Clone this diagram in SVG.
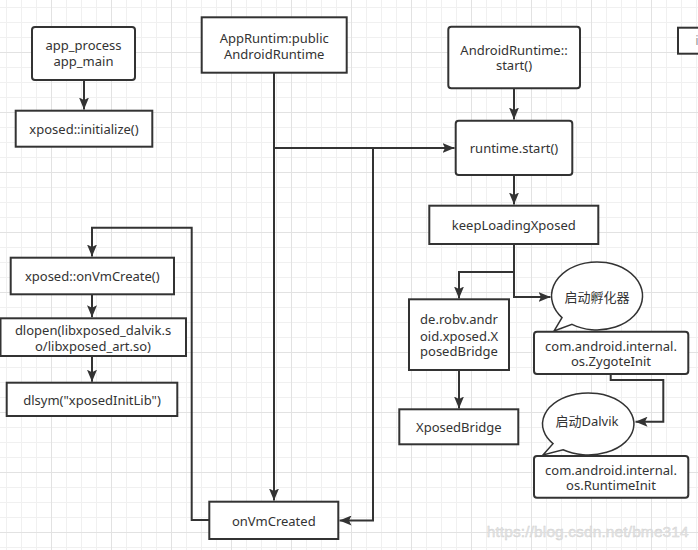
<svg xmlns="http://www.w3.org/2000/svg" width="698" height="550" viewBox="0 0 698 550">
<defs>
<pattern id="grid" patternUnits="userSpaceOnUse" x="44" y="45" width="60" height="60">
<path d="M22.5 0V60M37.5 0V60M52.5 0V60M0 22.5H60M0 37.5H60M0 52.5H60" stroke="#f0f0f0" stroke-width="1" fill="none"/>
<path d="M7.5 0V60M0 7.5H60" stroke="#e2e2e2" stroke-width="1" fill="none"/>
</pattern>
<marker id="arr" viewBox="0 0 12 10" refX="12" refY="5" markerWidth="12" markerHeight="10" markerUnits="userSpaceOnUse" orient="auto">
<path d="M0 0L12 5L0 10L2.5 5Z" fill="#333"/>
</marker>
<style>
.box{fill:#fff;stroke:#333;stroke-width:2}
.ell{fill:#fff;stroke:#333;stroke-width:1.5}
.t{font-family:"Noto Sans","Noto Sans CJK SC",sans-serif;font-size:13px;fill:#333;text-anchor:middle}
.c{fill:none;stroke:#333;stroke-width:2;marker-end:url(#arr)}
.cn{fill:none;stroke:#333;stroke-width:2}
</style>
</defs>
<rect width="698" height="550" fill="#fff"/>
<rect width="698" height="550" fill="url(#grid)"/>

<g id="connectors">
<path class="c" d="M84 80V109.5"/>
<path class="cn" d="M274 72.7V148"/>
<path class="c" d="M274 148V500.5"/>
<path class="c" d="M274 148H454.5"/>
<path class="c" d="M373 148V520.5H339.5"/>
<path class="c" d="M514 88.3V119.5"/>
<path class="c" d="M514 175V204.5"/>
<path class="c" d="M514 244V272H459V298.5"/>
<path class="c" d="M514 272V297H550.5"/>
<path class="c" d="M610.7 374V380H663.3V421.7H635.5"/>
<path class="c" d="M459 370V408.5"/>
<path class="c" d="M209.3 520H191.7V227.7H92V256.5"/>
<path class="c" d="M92 294.3V317.3"/>
<path class="c" d="M92 356V381.7"/>
</g>

<g id="app_process">
<rect class="box" x="32" y="27" width="103" height="53" rx="3"/>
<text class="t" x="83.5" y="50.2">app_process</text>
<text class="t" x="83.5" y="66.2">app_main</text>
</g>
<g id="xposed_initialize">
<rect class="box" x="15.7" y="110.7" width="136.6" height="36"/>
<text class="t" x="84" y="133.5">xposed::initialize()</text>
</g>
<g id="appruntime">
<rect class="box" x="201.7" y="17.3" width="145" height="55.4"/>
<text class="t" x="274.2" y="42.8">AppRuntim:public</text>
<text class="t" x="274.2" y="58.5">AndroidRuntime</text>
</g>
<g id="androidruntime_start">
<rect class="box" x="448.3" y="26.7" width="131.7" height="61.6" rx="3"/>
<text class="t" x="514" y="54.5">AndroidRuntime::</text>
<text class="t" x="514" y="70.2">start()</text>
</g>
<g id="runtime_start">
<rect class="box" x="455.7" y="120.7" width="116.6" height="54.3" rx="3"/>
<text class="t" x="514" y="152.8">runtime.start()</text>
</g>
<g id="keeploadingxposed">
<rect class="box" x="429.3" y="205.7" width="169" height="38.3"/>
<text class="t" x="513.8" y="229.5">keepLoadingXposed</text>
</g>
<g id="callout_zygote">
<path class="ell" d="M572 324.3A45.5 34 0 1 0 562 317.6L554 331Z"/>
<text class="t" x="597" y="301.8">启动孵化器</text>
</g>
<g id="de_robv">
<rect class="box" x="409" y="299.3" width="100" height="70.7"/>
<text class="t" x="459" y="323.8">de.robv.andr</text>
<text class="t" x="459" y="340.5">oid.xposed.X</text>
<text class="t" x="459" y="356.2">posedBridge</text>
</g>
<g id="zygoteinit">
<rect class="box" x="534" y="331.7" width="154.3" height="42.3" rx="3"/>
<text class="t" x="611" y="350.5">com.android.internal.</text>
<text class="t" x="611" y="366.2">os.ZygoteInit</text>
</g>
<g id="xposedbridge">
<rect class="box" x="399.3" y="409.3" width="119" height="35"/>
<text class="t" x="458.8" y="432.2">XposedBridge</text>
</g>
<g id="callout_dalvik">
<path class="ell" d="M563 449.8A45.7 31 0 1 0 553 443.7L543 455Z"/>
<text class="t" x="587" y="426.2">启动Dalvik</text>
</g>
<g id="runtimeinit">
<rect class="box" x="534" y="456" width="154.3" height="41.7" rx="3"/>
<text class="t" x="611" y="474.5">com.android.internal.</text>
<text class="t" x="611" y="490.2">os.RuntimeInit</text>
</g>
<g id="xposed_onvmcreate">
<rect class="box" x="10.7" y="257.7" width="163.3" height="36.6"/>
<text class="t" x="92.3" y="281.2">xposed::onVmCreate()</text>
</g>
<g id="dlopen">
<rect class="box" x="0.5" y="318.3" width="185.5" height="37.7"/>
<text class="t" x="93" y="335.2">dlopen(libxposed_dalvik.s</text>
<text class="t" x="93" y="351.2">o/libxposed_art.so)</text>
</g>
<g id="dlsym">
<rect class="box" x="6.7" y="382.7" width="170.6" height="33.3"/>
<text class="t" x="92" y="405.2">dlsym("xposedInitLib")</text>
</g>
<g id="onvmcreated">
<rect class="box" x="209.3" y="501.7" width="129" height="37.3"/>
<text class="t" x="273.8" y="526.2">onVmCreated</text>
</g>
<g id="partial_box">
<rect class="box" x="678" y="27.7" width="40" height="26"/>
<text class="t" x="697" y="45.2" style="fill:#999">i</text>
</g>
<text x="486.7" y="537" textLength="202" style="font-family:'Liberation Sans',sans-serif;font-size:15.5px;fill:#e6e6e6;stroke:#cfcfcf;stroke-width:0.4">https://blog.csdn.net/bme314</text>
</svg>
